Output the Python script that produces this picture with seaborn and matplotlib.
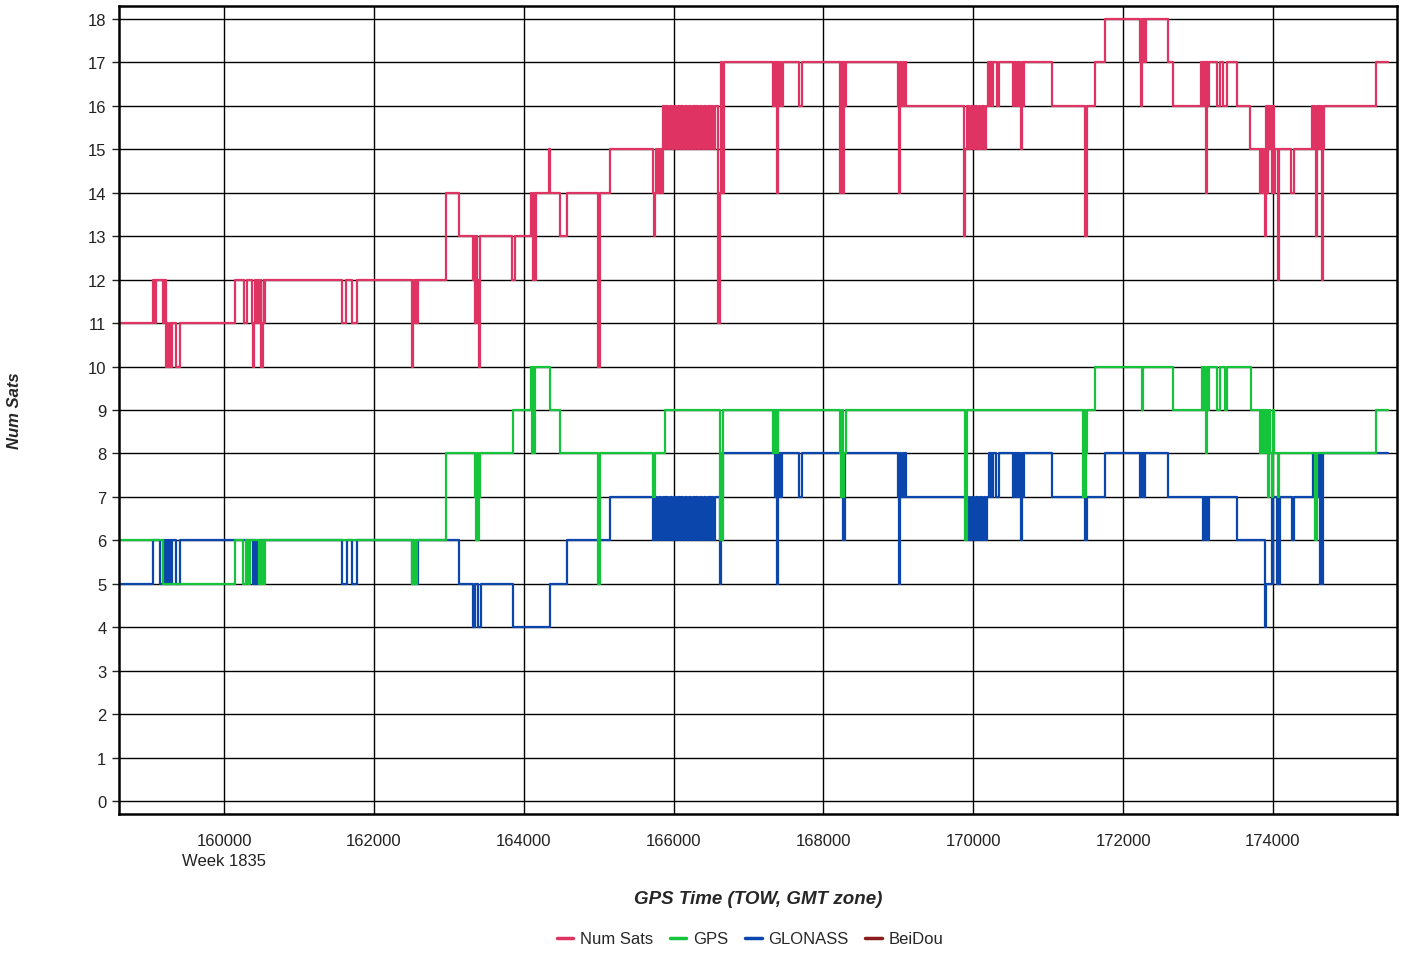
import pandas as pd
import matplotlib.pyplot as plt
import seaborn as sns
from matplotlib.lines import Line2D
from matplotlib.transforms import blended_transform_factory

# (GPS time of week, satellite count) at each change, step-post
num_sats = [
    (158600, 11), (159048, 12), (159080, 11), (159092, 12),
    (159190, 11), (159205, 12), (159220, 10), (159240, 11), (159258, 10), (159276, 11), (159290, 10), (159302, 11),
    (159355, 10), (159413, 11), (160147, 12), (160262, 11), (160305, 12),
    (160370, 11), (160385, 10), (160400, 11), (160412, 12), (160425, 11), (160438, 12), (160450, 11), (160462, 12),
    (160475, 11), (160488, 12), (160500, 10), (160518, 11), (160530, 12), (160540, 11), (160547, 12),
    (161571, 11), (161628, 12), (161704, 11), (161771, 12),
    (162505, 11), (162512, 10), (162522, 11), (162535, 12), (162548, 11), (162562, 12), (162575, 11), (162593, 12),
    (162963, 14), (163140, 13),
    (163327, 12), (163340, 13), (163352, 11), (163365, 13), (163378, 12), (163390, 11), (163403, 10), (163417, 13),
    (163840, 12), (163884, 13),
    (164093, 14), (164106, 13), (164120, 12), (164136, 14), (164150, 12), (164163, 14),
    (164341, 15), (164351, 14), (164484, 13), (164582, 14), (164987, 10), (165018, 14), (165152, 15),
    (165730, 14), (165739, 13), (165750, 14), (165765, 15), (165780, 14), (165795, 15), (165810, 14), (165825, 15),
    (165840, 14), (165855, 16),
    (165880, 15), (165905, 16), (165930, 15), (165955, 16), (165980, 15), (166005, 16), (166030, 15), (166055, 16),
    (166080, 15), (166105, 16), (166130, 15), (166155, 16), (166180, 15), (166205, 16), (166230, 15), (166255, 16),
    (166280, 15), (166305, 16), (166330, 15), (166355, 16), (166380, 15), (166405, 16), (166430, 15), (166455, 16),
    (166480, 15), (166505, 16), (166530, 15), (166553, 16),
    (166593, 11), (166620, 14), (166635, 17), (166650, 14), (166673, 17),
    (167323, 16), (167340, 17), (167355, 16), (167372, 17), (167385, 14), (167395, 17), (167410, 16), (167425, 17),
    (167440, 16), (167455, 17),
    (167678, 16), (167710, 17),
    (168221, 14), (168240, 17), (168255, 14), (168270, 17), (168285, 16), (168300, 17),
    (169000, 16), (169015, 14), (169028, 17), (169042, 16), (169056, 17), (169070, 16), (169084, 17), (169098, 16),
    (169880, 13), (169895, 15), (169920, 16), (169945, 15), (169970, 16), (169995, 15), (170020, 16), (170045, 15),
    (170070, 16), (170095, 15), (170120, 16), (170145, 15), (170170, 16),
    (170200, 17), (170215, 16), (170230, 17), (170245, 16), (170260, 17), (170323, 16), (170345, 17),
    (170534, 16), (170550, 17), (170565, 16), (170580, 17), (170595, 16), (170610, 17), (170625, 16), (170640, 15),
    (170652, 17), (170665, 16), (170680, 17),
    (171046, 16), (171485, 13), (171515, 16), (171624, 17), (171758, 18),
    (172225, 17), (172240, 16), (172252, 18), (172265, 17), (172278, 18), (172290, 17), (172305, 18),
    (172602, 17), (172661, 16),
    (173035, 17), (173050, 16), (173065, 17), (173080, 16), (173095, 17), (173108, 14), (173122, 17), (173137, 16),
    (173150, 17),
    (173249, 16), (173293, 17), (173337, 16), (173382, 17), (173523, 16), (173693, 15),
    (173826, 14), (173840, 15), (173855, 14), (173870, 15), (173885, 14), (173900, 13), (173912, 16), (173925, 14),
    (173940, 16), (173955, 15), (173970, 16), (173985, 14), (174000, 16), (174012, 14), (174027, 15),
    (174071, 12), (174082, 15), (174240, 14), (174280, 15),
    (174516, 16), (174530, 15), (174545, 16), (174560, 15), (174574, 13), (174585, 16), (174600, 15), (174615, 16),
    (174630, 15), (174645, 16), (174660, 12), (174672, 15), (174685, 16),
    (175375, 17), (175539, 17),
]

gps = [
    (158600, 6), (159190, 5), (160147, 6), (160258, 5), (160290, 6), (160325, 5), (160345, 6),
    (160471, 5), (160485, 6), (160500, 5), (160515, 6), (160530, 5), (160547, 6),
    (162505, 5), (162520, 6), (162535, 5), (162550, 6), (162565, 5), (162580, 6),
    (162963, 8),
    (163350, 7), (163365, 6), (163378, 8), (163392, 6), (163405, 7), (163417, 8),
    (163861, 9),
    (164093, 10), (164106, 8), (164120, 10), (164135, 8), (164150, 10),
    (164351, 9), (164484, 8), (164987, 5), (165018, 8), (165730, 7), (165753, 8), (165886, 9),
    (166620, 6), (166632, 8), (166645, 6), (166658, 9),
    (167323, 8), (167340, 9), (167355, 8), (167370, 9), (167385, 8), (167400, 9),
    (168221, 8), (168235, 7), (168250, 9), (168265, 7), (168280, 8), (168295, 9),
    (169890, 6), (169916, 9),
    (171468, 7), (171480, 9), (171495, 7), (171510, 8), (171521, 9),
    (171624, 10), (172248, 9), (172269, 10), (172661, 9),
    (173048, 10), (173060, 9), (173075, 10), (173090, 9), (173105, 8), (173118, 10), (173135, 9), (173150, 10),
    (173249, 9), (173293, 10), (173359, 9), (173382, 10), (173706, 9),
    (173826, 8), (173840, 9), (173855, 8), (173870, 9), (173885, 8), (173900, 9), (173915, 8), (173937, 7),
    (173950, 9), (173965, 8), (173982, 7), (173995, 9), (174012, 8),
    (174071, 7), (174082, 8), (174560, 6), (174583, 8), (175375, 9), (175539, 9),
]

glonass = [
    (158600, 5), (159048, 6), (159146, 5), (159182, 6),
    (159213, 5), (159225, 6), (159238, 5), (159250, 6), (159262, 5), (159275, 6), (159290, 5), (159302, 6),
    (159355, 5), (159413, 6),
    (160391, 5), (160405, 6), (160420, 5), (160435, 6), (160450, 5), (160465, 6),
    (161571, 5), (161638, 6), (161704, 5), (161771, 6),
    (162513, 5), (162528, 6), (162542, 5), (162556, 6), (162570, 5), (162593, 6),
    (163140, 5), (163319, 4), (163350, 5), (163394, 4), (163426, 5), (163861, 4), (164351, 5),
    (164574, 6), (165152, 7),
    (165730, 6), (165755, 7), (165780, 6), (165805, 7), (165830, 6), (165855, 7), (165880, 6), (165905, 7),
    (165930, 6), (165955, 7), (165980, 6), (166005, 7), (166030, 6), (166055, 7), (166080, 6), (166105, 7),
    (166130, 6), (166155, 7), (166180, 6), (166205, 7), (166230, 6), (166255, 7), (166280, 6), (166305, 7),
    (166330, 6), (166355, 7), (166380, 6), (166405, 7), (166430, 6), (166455, 7), (166480, 6), (166505, 7),
    (166530, 6), (166555, 7),
    (166615, 5), (166628, 7), (166664, 8),
    (167353, 7), (167365, 8), (167378, 5), (167392, 8), (167405, 7), (167420, 8), (167435, 7), (167450, 8),
    (167678, 7), (167710, 8), (168265, 6), (168288, 8),
    (169000, 7), (169015, 5), (169028, 8), (169042, 7), (169056, 8), (169070, 7), (169084, 8), (169100, 7),
    (169912, 6), (169937, 7), (169962, 6), (169987, 7), (170012, 6), (170037, 7), (170062, 6), (170087, 7),
    (170112, 6), (170137, 7), (170162, 6), (170187, 7),
    (170212, 8), (170225, 7), (170240, 8), (170255, 7), (170270, 8), (170310, 7), (170345, 8),
    (170534, 7), (170550, 8), (170565, 7), (170580, 8), (170595, 7), (170610, 8), (170625, 7), (170640, 6),
    (170652, 8), (170665, 7), (170680, 8),
    (171046, 7), (171491, 6), (171513, 7), (171758, 8),
    (172225, 7), (172240, 8), (172252, 7), (172265, 8), (172278, 7), (172290, 8),
    (172602, 7),
    (173069, 6), (173085, 7), (173100, 6), (173115, 7), (173130, 6), (173150, 7),
    (173523, 6), (173893, 4), (173912, 5), (173982, 7), (173995, 5), (174005, 7), (174049, 5), (174065, 7),
    (174080, 5), (174093, 7), (174249, 6), (174280, 7),
    (174538, 8), (174552, 7), (174566, 8), (174580, 7), (174595, 8), (174610, 7), (174627, 5), (174645, 8),
    (174660, 5), (174671, 8), (175539, 8),
]

series_names = ["Num Sats", "GPS", "GLONASS", "BeiDou"]
series_colors = ["#DE3363", "#14C43A", "#0A46AC", "#8B1A1A"]
x_ticks = [160000, 162000, 164000, 166000, 168000, 170000, 172000, 174000]
y_ticks = list(range(0, 19))


def to_frame(pairs):
    return pd.DataFrame(pairs, columns=["TOW", "SATS"])


sns.set_style("white")
plt.rcParams["font.family"] = ["Liberation Sans", "DejaVu Sans"]

fig = plt.figure(figsize=(14.03, 9.54), dpi=100)
ax = fig.add_axes([0.0848, 0.1457, 0.9109, 0.847])

# desenhar de baixo para cima: GLONASS, GPS, Num Sats
for dados, cor in [(glonass, series_colors[2]), (gps, series_colors[1]), (num_sats, series_colors[0])]:
    sns.lineplot(data=to_frame(dados), x="TOW", y="SATS", drawstyle="steps-post",
                 color=cor, linewidth=1.6, ax=ax, legend=False)

ax.set_xlim(158598, 175655)
ax.set_ylim(-0.3, 18.3)
ax.set_xticks(x_ticks)
ax.set_yticks(y_ticks)
ax.set_xticklabels([str(t) for t in x_ticks])
ax.grid(True, color="black", linewidth=1.0)
ax.set_axisbelow(True)
ax.tick_params(axis="x", length=0, pad=14, labelsize=12, colors="#222222")
ax.tick_params(axis="y", length=5, width=1, pad=4, labelsize=12, left=True, colors="#222222")
for s in ax.spines.values():
    s.set_color("black")
    s.set_linewidth(1.8)
ax.set_xlabel("")
ax.set_ylabel("")

trans = blended_transform_factory(ax.transData, ax.transAxes)
ax.text(160000, -0.058, "Week 1835", transform=trans, ha="center", va="center",
        fontsize=12, color="#222222")

fig.text(758 / 1403, 1 - 900 / 954, "GPS Time (TOW, GMT zone)", ha="center", va="center",
         fontsize=13.5, fontweight="bold", fontstyle="italic")
fig.text(15 / 1403, 1 - 411 / 954, "Num Sats", ha="center", va="center", rotation=90,
         fontsize=12, fontweight="bold", fontstyle="italic")

handles = [Line2D([0], [0], color=c, linewidth=2.5) for c in series_colors]
fig.legend(handles, series_names, loc="center", bbox_to_anchor=(750 / 1403, 1 - 940 / 954),
           ncol=4, frameon=False, fontsize=12, handlelength=1.0, handletextpad=0.4,
           columnspacing=1.0)

fig.savefig("out.png", dpi=100)
